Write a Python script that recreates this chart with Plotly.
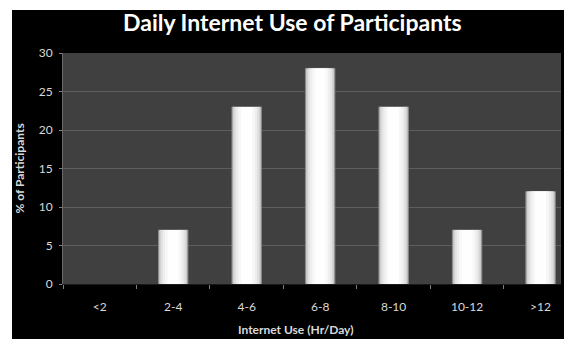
import plotly.graph_objects as go

categories = ["<2", "2-4", "4-6", "6-8", "8-10", "10-12", ">12"]
percent = [0, 7, 23, 28, 23, 7, 12]
y_ticks = [0, 5, 10, 15, 20, 25, 30]

title_text = "Daily Internet Use of Participants"
x_title = "Internet Use (Hr/Day)"
y_title = "% of Participants"

FONT = "Lato"
W, H = 564, 339
L, R, T, B = 63, 3, 53, 55
pw = W - L - R
ph = H - T - B

fig = go.Figure()

# layered bars to mimic the glossy horizontal gradient
layers = [(0.40, "#bdbdbd", "#8a8a8a", 1), (0.37, "#d2d2d2", None, 0),
          (0.33, "#e2e2e2", None, 0), (0.28, "#eeeeee", None, 0),
          (0.22, "#f7f7f7", None, 0), (0.15, "#fefefe", None, 0)]
for w, col, lc, lw in layers:
    fig.add_trace(go.Bar(
        x=categories, y=percent, width=w,
        marker=dict(color=col, line=dict(color=lc or col,
                                         width=[lw if v > 0 else 0 for v in percent])),
        showlegend=False, hoverinfo="skip",
    ))

# full category span is 7 units; plot is cropped on the right
x_end = -0.5 + (W - R - 64.5) / 73.25

fig.update_layout(
    width=W, height=H,
    margin=dict(l=L, r=R, t=T, b=B, pad=0),
    paper_bgcolor="black",
    plot_bgcolor="#404040",
    barmode="overlay",
    font=dict(family=FONT, color="#d9d9d9", size=12),
    xaxis=dict(
        type="category", range=[-0.5, x_end],
        tickson="boundaries", ticks="outside", ticklen=4, tickcolor="#808080",
        showline=True, linecolor="#1a1a1a", linewidth=1,
        showgrid=False, tickfont=dict(size=12, color="#d9d9d9"),
        ticklabelstandoff=12,
    ),
    yaxis=dict(
        range=[0, 30], tickvals=y_ticks, ticks="outside", ticklen=3,
        tickcolor="#808080", showline=True, linecolor="#6a6a6a",
        gridcolor="#5e5e5e", gridwidth=1, zeroline=False,
        tickfont=dict(size=12, color="#d9d9d9"), ticklabelstandoff=4,
    ),
    shapes=[
        dict(type="rect", xref="paper", yref="paper", xsizemode="pixel",
             ysizemode="pixel", xanchor=0, yanchor=0,
             x0=-L - 2, x1=-L + 12, y0=-B - 2, y1=ph + T + 2,
             fillcolor="white", line=dict(width=0), layer="above"),
        dict(type="rect", xref="paper", yref="paper", xsizemode="pixel",
             ysizemode="pixel", xanchor=0, yanchor=0,
             x0=-L - 2, x1=pw + R + 2, y0=ph + T - 10, y1=ph + T + 2,
             fillcolor="white", line=dict(width=0), layer="above"),
    ],
    annotations=[
        dict(text=f"<b>{title_text}</b>", xref="paper", yref="paper",
             x=(292 - L) / pw, y=1 + (T - 22) / ph, xanchor="center",
             yanchor="middle", showarrow=False,
             font=dict(family=FONT, size=23, color="white")),
        dict(text=f"<b>{x_title}</b>", xref="paper", yref="paper",
             x=(296 - L) / pw, y=-(329 - (H - B)) / ph, xanchor="center",
             yanchor="middle", showarrow=False,
             font=dict(family=FONT, size=12, color="#d9d9d9")),
        dict(text=f"<b>{y_title}</b>", xref="paper", yref="paper",
             x=(19 - L) / pw, y=0.5, xanchor="center", yanchor="middle",
             textangle=-90, showarrow=False,
             font=dict(family=FONT, size=12, color="#d9d9d9")),
    ],
)

fig.write_html("out.html")
